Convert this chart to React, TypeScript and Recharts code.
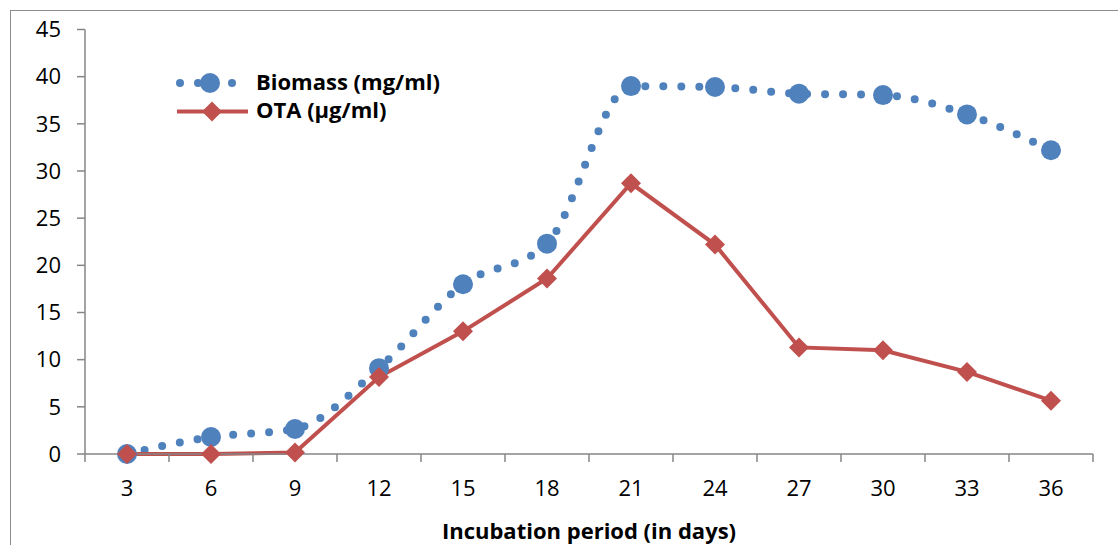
import React from 'react';
import { LineChart, Line, XAxis, YAxis } from 'recharts';

const days = [3, 6, 9, 12, 15, 18, 21, 24, 27, 30, 33, 36];
const biomass = [0, 1.8, 2.65, 9.1, 18.0, 22.3, 39.0, 38.9, 38.2, 38.05, 36.0, 32.2];
const ota = [0, 0, 0.15, 8.15, 13.0, 18.6, 28.7, 22.2, 11.3, 11.0, 8.7, 5.65];
const yTicks = [0, 5, 10, 15, 20, 25, 30, 35, 40, 45];
const seriesNames = ['Biomass (mg/ml)', 'OTA (µg/ml)'];
const xTitle = 'Incubation period (in days)';

const BLUE = '#4F81BD';
const RED = '#C0504D';
const AXIS = '#868686';
const FONT = '"Open Sans", "Noto Sans", sans-serif';
const FS = 22;

const data = days.map((d, i) => ({ day: d, biomass: biomass[i], ota: ota[i] }));

const W = 1118;
const H = 545;
const LEFT = 85;
const RIGHT = 25;
const TOP = 29.5;
const XH = 91;
const BAND = (W - LEFT - RIGHT) / days.length;

const XTick = (props: any) => {
  const { x, y, payload, index } = props;
  const axisY = y - 8;
  const half = BAND / 2;
  return (
    <g>
      {index === 0 && (
        <line x1={x - half} x2={x - half} y1={axisY} y2={axisY + 8} stroke={AXIS} strokeWidth={1.5} />
      )}
      <line x1={x + half} x2={x + half} y1={axisY} y2={axisY + 8} stroke={AXIS} strokeWidth={1.5} />
      <text x={x} y={axisY + 42} textAnchor="middle" fontSize={FS} fill="#000" fontFamily={FONT}>
        {payload.value}
      </text>
    </g>
  );
};

const Diamond = (props: any) => {
  const { cx, cy } = props;
  if (cx == null || cy == null) return null;
  const r = 10;
  return (
    <polygon
      points={`${cx},${cy - r} ${cx + r},${cy} ${cx},${cy + r} ${cx - r},${cy}`}
      fill={RED}
      stroke="none"
    />
  );
};

const LegendBox = () => (
  <svg width={320} height={75} style={{ position: 'absolute', left: 170, top: 60, display: 'block' }}>
    <g>
      <circle cx={10} cy={23} r={4} fill={BLUE} />
      <circle cx={28} cy={23} r={4} fill={BLUE} />
      <circle cx={40} cy={23} r={10} fill={BLUE} />
      <circle cx={62} cy={23} r={4} fill={BLUE} />
      <text x={86} y={29.5} fontSize={FS} fontWeight="bold" fontFamily={FONT} fill="#000">
        {seriesNames[0]}
      </text>
    </g>
    <g>
      <line x1={7} x2={78} y1={51.5} y2={51.5} stroke={RED} strokeWidth={4} />
      <polygon points="42,41.5 52,51.5 42,61.5 32,51.5" fill={RED} />
      <text x={86} y={57.5} fontSize={FS} fontWeight="bold" fontFamily={FONT} fill="#000">
        {seriesNames[1]}
      </text>
    </g>
  </svg>
);

export default function App() {
  return (
    <div
      style={{
        position: 'absolute',
        left: 0,
        top: 0,
        width: W,
        height: H,
        overflow: 'hidden',
        background: '#fff',
      }}
    >
      <div
        style={{
          position: 'absolute',
          left: 10,
          top: 10,
          width: 1200,
          height: 700,
          border: '1.5px solid #8c8c8c',
          boxSizing: 'border-box',
        }}
      />
      <div style={{ position: 'absolute', left: 0, top: 0 }}>
        <LineChart width={W} height={H} data={data} margin={{ top: TOP, right: RIGHT, left: 0, bottom: 0 }}>
          <XAxis
            dataKey="day"
            type="number"
            domain={[1.5, 37.5]}
            ticks={days}
            interval={0}
            tick={<XTick />}
            tickLine={false}
            tickSize={8}
            tickMargin={0}
            height={XH}
            axisLine={{ stroke: AXIS, strokeWidth: 1.5 }}
            label={{
              content: (p: any) => {
                const vb = p.viewBox || {};
                return (
                  <text
                    x={vb.x + vb.width / 2}
                    y={vb.y + 85}
                    textAnchor="middle"
                    fontSize={FS}
                    fontWeight="bold"
                    fontFamily={FONT}
                    fill="#000"
                  >
                    {xTitle}
                  </text>
                );
              },
            }}
          />
          <YAxis
            domain={[0, 45]}
            ticks={yTicks}
            interval={0}
            width={LEFT}
            tickSize={8}
            tickMargin={16}
            axisLine={{ stroke: AXIS, strokeWidth: 1.5 }}
            tickLine={{ stroke: AXIS, strokeWidth: 1.5 }}
            tick={{ fontSize: FS, fill: '#000', fontFamily: FONT }}
          />
          <Line
            dataKey="biomass"
            name={seriesNames[0]}
            type="monotone"
            stroke={BLUE}
            strokeWidth={8}
            strokeDasharray="0 18"
            strokeLinecap="round"
            dot={{ r: 10, fill: BLUE, stroke: 'none' }}
            activeDot={false}
            isAnimationActive={false}
          />
          <Line
            dataKey="ota"
            name={seriesNames[1]}
            type="linear"
            stroke={RED}
            strokeWidth={4}
            dot={<Diamond />}
            activeDot={false}
            isAnimationActive={false}
          />
        </LineChart>
      </div>
      <LegendBox />
    </div>
  );
}
